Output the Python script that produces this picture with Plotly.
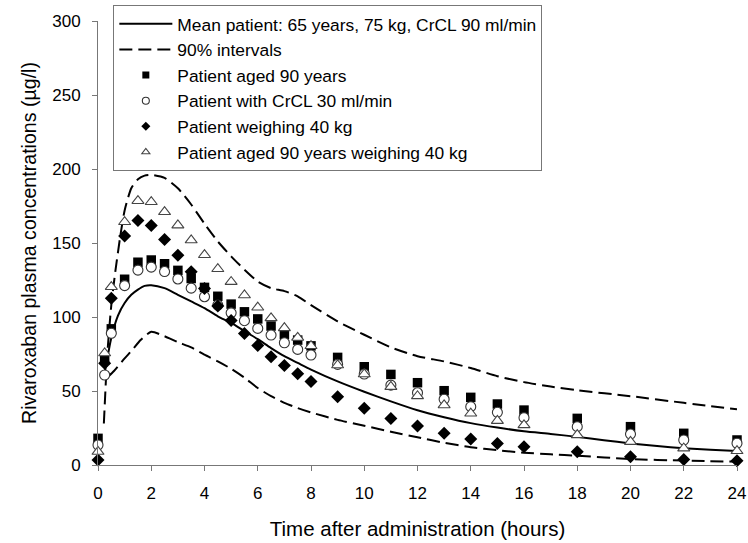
import plotly.graph_objects as go

# ---------------- data ----------------
times = [0, 0.25, 0.5, 1, 1.5, 2, 2.5, 3, 3.5, 4, 4.5, 5, 5.5, 6, 6.5, 7, 7.5, 8,
         9, 10, 11, 12, 13, 14, 15, 16, 18, 20, 22, 24]

aged90 = [18, 71, 92, 125.5, 137, 138.5, 136, 131.5, 126, 120, 114, 108.7, 103.5, 98.7,
          93.9, 88.2, 84.4, 80.5, 72.7, 66.4, 61.2, 55.6, 50.2, 45.7, 41.2, 37.1, 31.5,
          25.9, 21.4, 16.9]
crcl30 = [13.5, 60.8, 89, 121.2, 131.7, 133.7, 130.7, 125.7, 119.5, 113.7, 108, 102.8,
          97.5, 92.3, 87.8, 82.6, 78.1, 74.3, 68, 61.5, 54, 48.8, 44.4, 39.4, 35.6, 32,
          25.9, 20.9, 16.9, 14.7]
weight40 = [3.4, 68.7, 112.6, 154.8, 165.2, 161.8, 152.4, 141.8, 130.5, 119.3, 107.4, 97.7,
            88.9, 80.8, 73.1, 67.2, 61.6, 56.5, 46.1, 38.3, 31.5, 26.3, 21.4, 17.6, 14.6,
            12.4, 9, 5.6, 3.8, 2.9]
aged90_w40 = [9, 75.6, 120.4, 164.3, 178.5, 177.8, 171, 162, 151.9, 142, 132.5, 123.8,
              114.8, 106.5, 99.3, 92.6, 86.1, 80.5, 67.5, 61.4, 52.9, 46.6, 40.5, 34.9,
              29.9, 27, 20.3, 15.7, 11.3, 9.5]

mean_t = [0.25, 0.5, 0.75, 1, 1.25, 1.5, 1.75, 2, 2.5, 3, 3.5, 4, 4.5, 5, 5.5, 6, 6.5, 7,
          7.5, 8, 9, 10, 11, 12, 13, 14, 15, 16, 17, 18, 19, 20, 21, 22, 23, 24]
mean_v = [62, 86, 101, 109.5, 115, 118.5, 121, 121.5, 119.5, 115, 110.5, 106, 100.5, 96,
          90.5, 85, 79, 73.5, 69, 64.5, 56.5, 49.5, 43, 37, 32.3, 28.3, 25.3, 22.8, 21,
          19, 16.7, 14.6, 12.8, 11.3, 10.3, 9.5]

upper_t = [0.22, 0.35, 0.5, 0.66, 0.84, 1.0, 1.25, 1.5, 1.75, 2.0, 2.5, 3.0, 3.5, 4.0,
           4.5, 5.0, 5.5, 6.0, 6.5, 7.0, 7.5, 8, 9, 10, 11, 12, 13, 14, 15, 16, 17, 18,
           20, 22, 24]
upper_v = [28, 75, 108, 132, 155, 172, 187, 193, 195.5, 196, 194, 187, 176, 163, 151,
           141, 132, 124, 119.5, 117.5, 114, 108, 97, 88, 79.5, 73.5, 70, 65.5, 60, 56,
           53, 50.5, 46.5, 42, 37.6]

lower_t = [0.4, 0.6, 1.0, 1.3, 1.6, 2.0, 2.5, 3.0, 3.5, 4.0, 4.5, 5.0, 5.5, 6.0, 6.5,
           7.0, 7.5, 8, 9, 10, 11, 12, 13, 14, 15, 16, 17, 18, 20, 22, 24]
lower_v = [60, 63.5, 72, 78, 84.5, 90, 87, 83, 79.5, 74.5, 70, 65, 59, 52, 46.5, 42,
           38.5, 35.5, 30.5, 26.5, 22.5, 18.7, 15, 12, 10, 8.3, 7.2, 6.3, 4, 3, 2.2]

x_ticks = list(range(0, 25, 2))
y_ticks = [0, 50, 100, 150, 200, 250, 300]

names = ["Mean patient: 65 years, 75 kg, CrCL 90 ml/min",
         "90% intervals",
         "Patient aged 90 years",
         "Patient with CrCL 30 ml/min",
         "Patient weighing 40 kg",
         "Patient aged 90 years weighing 40 kg"]

# ---------------- figure ----------------
FONT = "Liberation Sans, Arial, sans-serif"
fig = go.Figure()

fig.add_trace(go.Scatter(x=mean_t, y=mean_v, mode="lines", name=names[0],
                         line=dict(color="black", width=2, shape="spline", smoothing=0.6)))
fig.add_trace(go.Scatter(x=upper_t + [None] + lower_t, y=upper_v + [None] + lower_v,
                         mode="lines", name=names[1], connectgaps=False,
                         line=dict(color="black", width=2, dash="13px,6px",
                                   shape="spline", smoothing=0.6)))

marker_specs = [
    (aged90, names[2], dict(symbol="square", size=9.5, color="black",
                             line=dict(width=0))),
    (crcl30, names[3], dict(symbol="circle", size=10, color="white",
                             line=dict(width=1.1, color="#333333"))),
    (weight40, names[4], dict(symbol="diamond", size=10, color="black",
                               line=dict(width=0))),
    (aged90_w40, names[5], dict(symbol="triangle-up", size=10.5, color="white",
                                 line=dict(width=1.1, color="#444444"))),
]
for vals, nm, mk in marker_specs:
    fig.add_trace(go.Scatter(x=times, y=vals, mode="markers", name=nm, marker=mk,
                             showlegend=False, cliponaxis=False))
# legend entries with smaller symbols, as in the original legend
for vals, nm, mk in marker_specs:
    small = dict(mk)
    small["size"] = 7
    fig.add_trace(go.Scatter(x=[None], y=[None], mode="markers", name=nm,
                             marker=small, showlegend=True))

fig.update_layout(
    width=748, height=543,
    margin=dict(l=97.5, r=10.5, t=20.7, b=78, autoexpand=False),
    paper_bgcolor="white", plot_bgcolor="white",
    font=dict(family=FONT, size=17, color="black"),
    showlegend=True,
    legend=dict(x=0.024, y=1.036, xanchor="left", yanchor="top",
                bgcolor="white", bordercolor="#777777", borderwidth=1,
                font=dict(family=FONT, size=17.4, color="black"),
                itemwidth=53, tracegroupgap=0, traceorder="normal"),
    xaxis=dict(range=[0, 24], tickvals=x_ticks, ticktext=[str(v) for v in x_ticks],
               showgrid=False, zeroline=False, showline=True, linecolor="#777777",
               linewidth=1, ticks="outside", ticklen=5, tickcolor="#777777",
               tickfont=dict(size=17), ticklabelstandoff=8,
               title=dict(text="Time after administration (hours)",
                          font=dict(size=20.5), standoff=19)),
    yaxis=dict(range=[0, 300], tickvals=y_ticks, ticktext=[str(v) for v in y_ticks],
               showgrid=False, zeroline=False, showline=True, linecolor="#777777",
               linewidth=1, ticks="outside", ticklen=5, tickcolor="#777777",
               tickfont=dict(size=17), ticklabelstandoff=8,
               title=dict(text="Rivaroxaban plasma concentrations (µg/l)",
                          font=dict(size=19.6), standoff=10)),
)

fig.write_html("out.html")
